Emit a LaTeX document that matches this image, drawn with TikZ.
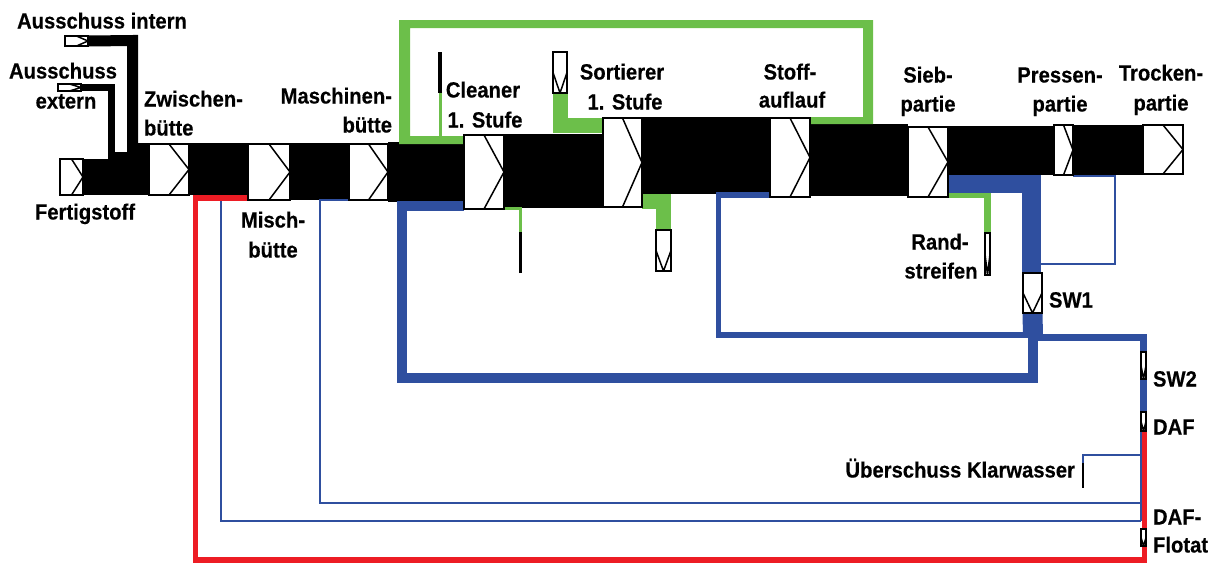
\documentclass[tikz,border=0pt]{standalone}
\usepackage{fontspec}
\setmainfont{Liberation Sans}[FakeStretch=0.92,BoldFeatures={FakeStretch=0.92,FakeBold=0.35}]
\usetikzlibrary{backgrounds}
\definecolor{gr}{HTML}{6CBF4A}
\definecolor{bl}{HTML}{2F4F9F}
\definecolor{rd}{HTML}{ED1C24}
\tikzset{
  x=1pt,y=-1pt,
  lab/.style={font=\bfseries\fontsize{22}{24}\selectfont,inner sep=0pt,outer sep=0pt,text height=15pt,text depth=0pt},
  tankbase/.style={draw=black,fill=white,line width=1.5pt,inner sep=0pt,outer sep=0pt},
  tankr/.style={tankbase,path picture={\draw[line width=1.5pt] (path picture bounding box.north) -- (path picture bounding box.east) -- (path picture bounding box.south);}},
  tankd/.style={tankbase,path picture={\draw[line width=1.5pt] (path picture bounding box.west) -- (path picture bounding box.south) -- (path picture bounding box.east);}},
  band/.style={fill=black},
  feed/.style={draw=black,line join=miter},
  gline/.style={draw=gr,line join=miter},
  bline/.style={draw=bl,line join=miter},
  rline/.style={draw=rd,line join=miter},
  thin blue/.style={draw=bl,line width=2pt},
}
\newcommand{\tank}[6]{\node[#1,minimum width={(#5-#3)*1pt},minimum height={(#6-#4)*1pt}] (#2) at ({(#3+#5)/2},{(#4+#6)/2}) {};}
\begin{document}
\begin{tikzpicture}
\useasboundingbox (0,0) rectangle (1217,563);
% tanks
\tank{tankr}{fert}{60}{159}{83}{195}
\tank{tankr}{intern}{65}{36}{88}{46}
\tank{tankr}{extern}{58}{84}{81}{91}
\tank{tankr}{zw}{149}{144}{189}{195}
\tank{tankr}{misch}{248}{144}{290}{200}
\tank{tankr}{masch}{349}{144}{388}{200}
\tank{tankr}{clean}{464}{135}{504}{209}
\tank{tankr}{sort}{603}{118}{642}{207}
\tank{tankr}{stoff}{770}{118}{810}{197}
\tank{tankr}{sieb}{908}{127}{948}{197}
\tank{tankr}{press}{1054}{125}{1073}{175}
\tank{tankr}{trock}{1143}{125}{1183}{174}
\tank{tankd}{sorttop}{553}{52}{567}{93}
\tank{tankd}{sortrej}{656}{230}{671}{271}
\tank{tankd}{rand}{985}{233}{990}{275}
\tank{tankd}{sw1}{1023}{273}{1042}{313}
\tank{tankd}{sw2}{1141}{352}{1146}{379}
\tank{tankd}{daf}{1141}{412}{1146}{431}
\tank{tankd}{flot}{1141}{529}{1146}{546}
\coordinate (cleantop) at (440,52);
\coordinate (cleantopj) at (440,93);
\coordinate (cleanbot) at (520.5,273);
\coordinate (cleanbotj) at (520.5,232);
\coordinate (klarend) at (1083,488);
\coordinate (klarj) at (1083,463);
\begin{scope}[on background layer]
% black bands
\fill[band] (fert.east |- 0,159) rectangle (zw.west |- 0,195);
\fill[band] (115,152) rectangle (138,159);
\fill[band] (138,143) rectangle (zw.west |- 0,195);
\fill[band] (zw.east |- 0,143) rectangle (misch.west |- 0,195);
\fill[band] (misch.east |- 0,143) rectangle (masch.west |- 0,200);
\fill[band] (masch.east |- 0,142) rectangle (clean.west |- 0,202);
\fill[band] (clean.east |- 0,134) rectangle (sort.west |- 0,208);
\fill[band] (sort.east |- 0,117) rectangle (stoff.west |- 0,194);
\fill[band] (stoff.east |- 0,124) rectangle (sieb.west |- 0,196);
\fill[band] (sieb.east |- 0,126) rectangle (press.west |- 0,175);
\fill[band] (press.east |- 0,125) rectangle (trock.west |- 0,175);
\draw[feed,line width=11pt] (intern.east) -- (132.5,40.5) -- (132.5,152);
\draw[feed,line width=7pt] (extern.east) -- (111.5,87.5) -- (111.5,159);
% green
\fill[gr] (stoff.east |- 0,124) -- (873,124) -- (873,20) -- (399,20) -- (399,144) -- (clean.west |- 0,144) -- (clean.west |- 0,136) -- (410,136) -- (410,28) -- (863,28) -- (863,117) -- (stoff.east |- 0,117) -- cycle;
\draw[gline,line width=15pt] (sorttop.south) -- (560,125) -- (sort.west |- 0,125);
\draw[gline,line width=14.5pt] (sort.east |- 0,201.5) -- (663.5,201.5) -- (sortrej.north);
\draw[gline,line width=6.5pt] (sieb.east |- 0,195) -- (987.5,195) -- (rand.north);
\draw[draw=gr,line width=3pt] (cleantopj) -- (cleantop |- 0,137);
\draw[gline,line width=3pt] (clean.east |- 0,208.5) -- (520.5,208.5) -- (cleanbotj);
\draw[draw=black,line width=3.5pt] (cleantop) -- (cleantopj);
\draw[draw=black,line width=3pt] (cleanbot) -- (cleanbotj);
% blue
\draw[bline,line width=10pt] (clean.west |- 0,205.5) -- (402,205.5) -- (402,377.5) -- (1032.5,377.5) -- (1032.5,325);
\draw[bline,line width=5.5pt] (stoff.west |- 0,195) -- (718.5,195) -- (718.5,335) -- (sw1.south |- 0,335);
\draw[bline,line width=7pt] (1033,337) -- (1143.5,337) -- (sw2.north);
\draw[bline,line width=7pt] (sw2.south) -- (daf.north);
\draw[draw=bl,line width=20pt] (sw1.south) -- (1033,337);
\draw[bline,line width=18.5pt] (sieb.east |- 0,184) -- (1031.5,184) -- (1031.5,0 |- sw1.north);
\draw[thin blue] (press.east |- 0,176) -- (1115,176) -- (1115,264) -- (1041,264);
\draw[thin blue] (masch.west |- 0,200) -- (320,200) -- (320,502.5) -- (1141,502.5);
\draw[thin blue] (220.5,200) -- (220.5,521) -- (1141,521);
\draw[thin blue] (1141,454.5) -- (1083,454.5) -- (klarj);
\draw[draw=black,line width=2.5pt] (klarj) -- (klarend);
% red
\draw[rline,line width=5.5pt] (misch.west |- 0,198) -- (195.5,198) -- (195.5,560) -- (1144.5,560) -- (1144.5,0 |- daf.south);
\draw[thin blue] (1141,0 |- daf.south) -- (1141,521);
\end{scope}
% labels
\node[lab] (l1) at (102,21) {Ausschuss intern};
\node[lab] (l2) at (63,71) {Ausschuss};
\node[lab] (l3) at (66,101) {extern};
\node[lab,anchor=west] (l4) at (144,99) {Zwischen-};
\node[lab,anchor=west] (l5) at (144,128) {bütte};
\node[lab,anchor=east] (l6) at (392,96) {Maschinen-};
\node[lab,anchor=east] (l7) at (392,125) {bütte};
\node[lab] (l8) at (85,212) {Fertigstoff};
\node[lab] (l9) at (273,220) {Misch-};
\node[lab] (l10) at (273,250) {bütte};
\node[lab] (l11) at (483,90) {Cleaner};
\node[lab] (l12) at (485,120) {1. Stufe};
\node[lab] (l13) at (622,72) {Sortierer};
\node[lab] (l14) at (625,102) {1. Stufe};
\node[lab] (l15) at (790,72) {Stoff-};
\node[lab] (l16) at (792,100) {auflauf};
\node[lab] (l17) at (928,75) {Sieb-};
\node[lab] (l18) at (928,104) {partie};
\node[lab] (l19) at (1060,75) {Pressen-};
\node[lab] (l20) at (1060,104) {partie};
\node[lab] (l21) at (1161,73) {Trocken-};
\node[lab] (l22) at (1161,103) {partie};
\node[lab] (l23) at (940,242) {Rand-};
\node[lab] (l24) at (941,271) {streifen};
\node[lab,anchor=west] (l25) at (1049,300) {SW1};
\node[lab,anchor=west] (l26) at (1153,379) {SW2};
\node[lab,anchor=west] (l27) at (1153,427) {DAF};
\node[lab,anchor=west] (l28) at (1153,517) {DAF-};
\node[lab,anchor=west] (l29) at (1153,545) {Flotat};
\node[lab,anchor=east] (l30) at (1075,470) {Überschuss Klarwasser};
\end{tikzpicture}
\end{document}
